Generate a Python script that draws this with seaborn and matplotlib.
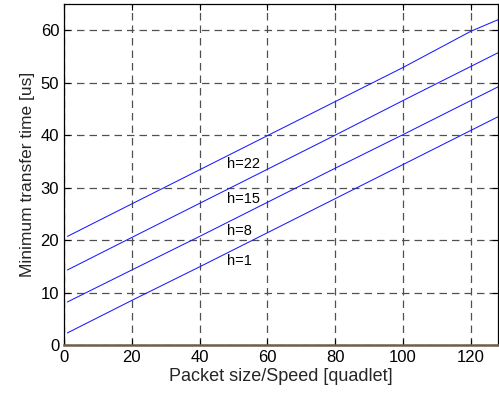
import matplotlib
matplotlib.use("Agg")
import matplotlib.pyplot as plt
import seaborn as sns
import pandas as pd

# values
packet_size = [1, 20, 40, 60, 80, 100, 120, 128]
hops = [1, 8, 15, 22]
transfer_time = {
    1: [2.3, 8.5, 14.9, 21.4, 27.9, 34.4, 40.9, 43.5],
    8: [8.2, 14.3, 20.7, 27.2, 33.7, 40.1, 46.6, 49.2],
    15: [14.3, 20.5, 27.0, 33.5, 40.0, 46.6, 53.1, 55.7],
    22: [20.7, 26.9, 33.4, 39.9, 46.4, 52.9, 59.8, 62.0],
}
label_pos = {1: (48.2, 16.1), 8: (48.2, 21.8), 15: (48.2, 27.9), 22: (48.2, 34.5)}

rows = []
for h in hops:
    for x, t in zip(packet_size, transfer_time[h]):
        rows.append({"x": x, "t": t, "h": h})
df = pd.DataFrame(rows)

sns.set_style("ticks")
plt.rcParams["font.family"] = ["Liberation Sans", "DejaVu Sans"]

fig = plt.figure(figsize=(4.99, 3.94), dpi=100)
ax = fig.add_axes([0.1283, 0.1244, 0.8697, 0.8655])

sns.lineplot(data=df, x="x", y="t", hue="h", palette=["#1a1aff"] * 4,
             legend=False, linewidth=0.75, ax=ax)

for h in hops:
    ax.text(label_pos[h][0], label_pos[h][1], f"h={h}", fontsize=10.5,
            va="center", ha="left", color="black")

ax.set_xlim(0, 128)
ax.set_ylim(0, 65)
ax.set_xticks(range(0, 121, 20))
ax.set_yticks(range(0, 61, 10))
ax.grid(True, color="#505050", linestyle=(0, (6, 4)), linewidth=0.9)
ax.tick_params(direction="in", top=True, right=True, length=4, labelsize=12,
               colors="black", width=0.8)

for s in ["top", "right", "left"]:
    ax.spines[s].set_color("black")
    ax.spines[s].set_linewidth(0.9)
ax.spines["bottom"].set_color("#6e5f4b")
ax.spines["bottom"].set_linewidth(1.8)

ax.set_xlabel("Packet size/Speed [quadlet]", fontsize=13, labelpad=2)
ax.set_ylabel("Minimum transfer time [us]", fontsize=12.5, labelpad=4)

fig.savefig("out.png", dpi=100)
